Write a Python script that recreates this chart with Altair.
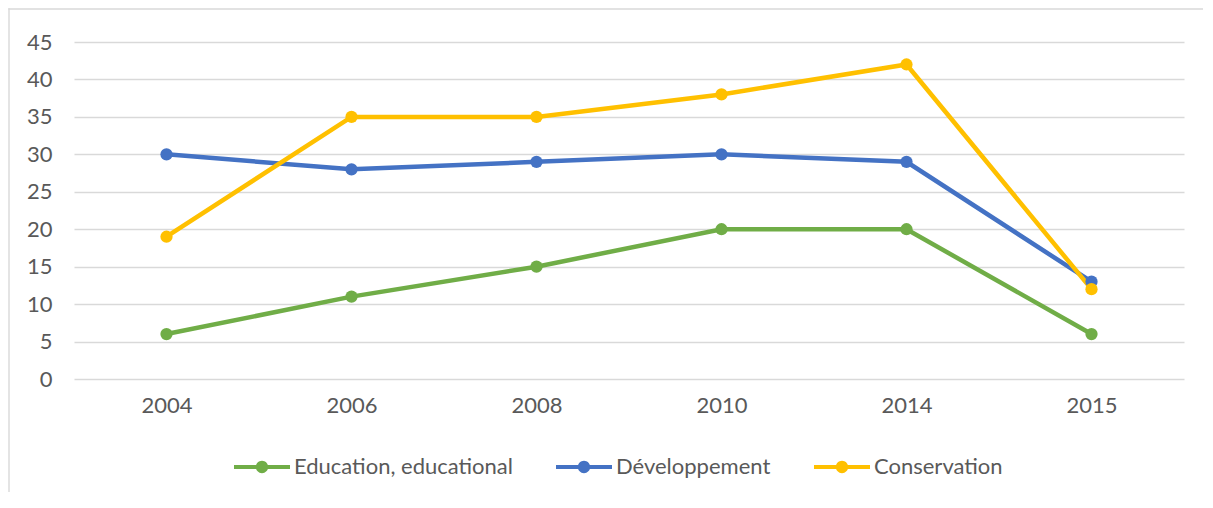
import altair as alt
import pandas as pd

years = ["2004", "2006", "2008", "2010", "2014", "2015"]
series = ["Education, educational", "Développement", "Conservation"]
education = [6, 11, 15, 20, 20, 6]
developpement = [30, 28, 29, 30, 29, 13]
conservation = [19, 35, 35, 38, 42, 12]
colors = ["#70AD47", "#4472C4", "#FFC000"]

rows = []
for name, vals in zip(series, [education, developpement, conservation]):
    for y, v in zip(years, vals):
        rows.append({"year": y, "value": v, "series": name})
df = pd.DataFrame(rows)

FONT = "Lato"
GRAY = "#595959"
W, H = 1110, 337
PAD = {"left": 66, "top": 34, "right": 19, "bottom": 113}

x = alt.X("year:O", sort=years, scale=alt.Scale(type="point", padding=0.5),
          axis=alt.Axis(title=None, grid=False, domain=False, ticks=False,
                        labelAngle=0, labelPadding=16, labelFontSize=22,
                        labelFont=FONT, labelColor=GRAY))
y = alt.Y("value:Q", scale=alt.Scale(domain=[0, 45], nice=False),
          axis=alt.Axis(title=None, values=list(range(0, 50, 5)), grid=True,
                        gridColor="#D9D9D9", gridWidth=1.3, domain=False,
                        ticks=False, labelPadding=22, labelFontSize=22,
                        labelFont=FONT, labelColor=GRAY))
color_scale = alt.Scale(domain=series, range=colors)

one = pd.DataFrame({"a": [0]})
left_edge = alt.Chart(one).mark_rect(color="#D9D9D9", clip=False).encode(
    x=alt.value(-65.7), x2=alt.value(-64.3), y=alt.value(-33.7), y2=alt.value(H + PAD["bottom"]))
top_edge = alt.Chart(one).mark_rect(color="#D9D9D9", clip=False).encode(
    x=alt.value(-65.7), x2=alt.value(W + PAD["right"]), y=alt.value(-33.7), y2=alt.value(-32.3))

lines = alt.Chart(df).mark_line(strokeWidth=4.5).encode(
    x=x, y=y,
    color=alt.Color("series:N", scale=color_scale, legend=None),
    detail="series:N",
)

LEG_PATH = ("M-1,-0.075 L1,-0.075 L1,0.075 L-1,0.075 Z "
            "M-0.22,0 A0.22,0.22 0 1,1 0.22,0 A0.22,0.22 0 1,1 -0.22,0 Z")

points = alt.Chart(df).mark_point(filled=True, size=150, opacity=1).encode(
    x=x, y=y,
    color=alt.Color("series:N", scale=color_scale,
                    legend=alt.Legend(title=None, orient="none", legendX=160,
                                      legendY=397, direction="horizontal",
                                      symbolType=LEG_PATH, symbolSize=3136,
                                      symbolStrokeWidth=0, symbolOpacity=1,
                                      labelFont=FONT, labelFontSize=22,
                                      labelColor=GRAY, labelOffset=4,
                                      labelLimit=500, columnPadding=43)),
)

chart = alt.layer(left_edge, top_edge, lines, points).resolve_legend(color="independent").properties(
    width=W, height=H,
    autosize=alt.AutoSizeParams(type="none"),
    padding=PAD,
).configure_view(stroke=None)

chart.save("out.html", embed_options={"renderer": "svg", "actions": False})
